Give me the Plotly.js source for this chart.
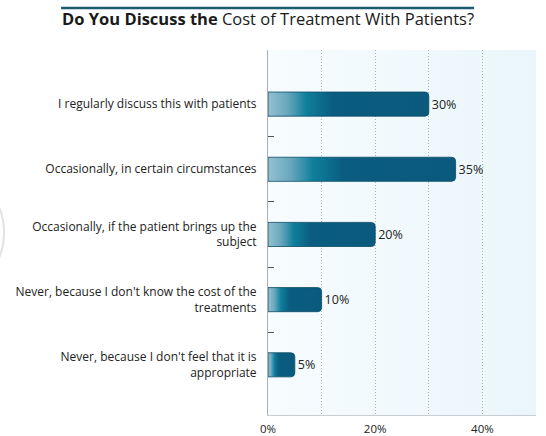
<!DOCTYPE html>
<html>
<head>
<meta charset="utf-8">
<script src="https://cdn.plot.ly/plotly-3.0.1.min.js"></script>
<style>
  body { margin: 0; background: #fff; }
  #chart { width: 546px; height: 436px; }
</style>
</head>
<body>
<div id="chart"></div>
<script>
// answers, top to bottom
var answers = [
    "I regularly discuss this with patients",
    "Occasionally, in certain circumstances",
    "Occasionally, if the patient brings up the<br>subject",
    "Never, because I don't know the cost of the<br>treatments",
    "Never, because I don't feel that it is<br>appropriate"
];
var shares = [30, 35, 20, 10, 5];
var xTicks = [0, 10, 20, 30, 40];
var xTickText = ["0%", "", "20%", "", "40%"];

var font = "'Open Sans', sans-serif";
var yRange = [4.77, -0.83];

var bars = {
    type: "bar",
    orientation: "h",
    y: answers,
    x: shares,
    width: 0.37,
    text: shares.map(function(v) { return v + "%"; }),
    textposition: "outside",
    cliponaxis: false,
    textfont: { family: font, size: 12.5, color: "#222" },
    marker: {
        color: "#0b5a7d",
        cornerradius: 4,
        line: { color: "#0a4a66", width: 0.8 }
    },
    hoverinfo: "none"
};

// dashes between the answers on the left axis
var seps = {
    type: "scatter",
    mode: "markers",
    x: [0, 0, 0, 0],
    y: [0.5, 1.5, 2.5, 3.5],
    yaxis: "y2",
    marker: { size: 0.1, color: "rgba(0,0,0,0)" },
    hoverinfo: "none",
    showlegend: false
};

var layout = {
    width: 546,
    height: 436,
    margin: { l: 268, r: 10, t: 50, b: 21 },
    paper_bgcolor: "#ffffff",
    plot_bgcolor: "#eef8fc",
    showlegend: false,
    title: {
        text: "<b>Do You Discuss the</b> Cost of Treatment With Patients?",
        font: { family: font, size: 16.5, color: "#1a1a1a" },
        x: 0.491, xanchor: "center",
        y: 0.955, yanchor: "middle"
    },
    xaxis: {
        range: [0, 50],
        tickvals: xTicks,
        ticktext: xTickText,
        showgrid: true,
        gridcolor: "#a9b3b8",
        griddash: "1px,2px",
        gridwidth: 1,
        zeroline: false,
        showline: true,
        linecolor: "#c8ced2",
        linewidth: 1,
        ticks: "",
        ticklabelstandoff: 3,
        tickfont: { family: font, size: 11.5, color: "#222" },
        fixedrange: true
    },
    yaxis: {
        type: "category",
        range: yRange,
        showgrid: false,
        zeroline: false,
        showline: true,
        linecolor: "#a9b0b4",
        linewidth: 1,
        ticks: "",
        ticklabelstandoff: 8,
        tickfont: { family: font, size: 12, color: "#222" },
        fixedrange: true
    },
    yaxis2: {
        overlaying: "y",
        range: yRange,
        tickvals: [0.5, 1.5, 2.5, 3.5],
        showticklabels: false,
        ticks: "inside",
        ticklen: 6,
        tickcolor: "#555",
        tickwidth: 1,
        showgrid: false,
        zeroline: false,
        showline: false,
        fixedrange: true
    },
    bargap: 0.6,
    shapes: [
        {
            type: "line", xref: "paper", yref: "paper",
            x0: -0.772, x1: 0.769, y0: 1.115, y1: 1.115,
            line: { color: "#1b5b70", width: 2.5 }
        },
        {
            type: "circle", xref: "paper", yref: "paper",
            x0: -1.12, x1: -0.985, y0: 0.40, y1: 0.6,
            line: { color: "#e2e2e2", width: 2 }
        }
    ]
};

Plotly.newPlot("chart", [bars, seps], layout, { displayModeBar: false, staticPlot: true }).then(function(gd) {
    // horizontal gradient fill on each bar, light on the left
    var svg = gd.querySelector(".main-svg");
    var ns = "http://www.w3.org/2000/svg";
    var defs = svg.querySelector("defs") || svg.insertBefore(document.createElementNS(ns, "defs"), svg.firstChild);
    var grad = document.createElementNS(ns, "linearGradient");
    grad.setAttribute("id", "barGrad");
    grad.setAttribute("x1", "0"); grad.setAttribute("x2", "1");
    grad.setAttribute("y1", "0"); grad.setAttribute("y2", "0");
    var stops = [[0, "#93c1d1"], [0.12, "#6aa7bd"], [0.24, "#0e7f9b"], [0.4, "#0a5d80"], [1, "#0b5a7d"]];
    stops.forEach(function(s) {
        var st = document.createElementNS(ns, "stop");
        st.setAttribute("offset", s[0]);
        st.setAttribute("stop-color", s[1]);
        grad.appendChild(st);
    });
    defs.appendChild(grad);
    gd.querySelectorAll(".barlayer .point path").forEach(function(p) {
        p.style.fill = "url(#barGrad)";
    });
    // soft white-to-blue wash behind the bars
    var bg = document.createElementNS(ns, "linearGradient");
    bg.setAttribute("id", "bgGrad");
    bg.setAttribute("x1", "0"); bg.setAttribute("x2", "1");
    [[0, "#f7fcfe"], [1, "#eaf6fb"]].forEach(function(s) {
        var st = document.createElementNS(ns, "stop");
        st.setAttribute("offset", s[0]);
        st.setAttribute("stop-color", s[1]);
        bg.appendChild(st);
    });
    defs.appendChild(bg);
    var bgRect = gd.querySelector(".bglayer rect.bg");
    if (bgRect) bgRect.style.fill = "url(#bgGrad)";
});
</script>
</body>
</html>
